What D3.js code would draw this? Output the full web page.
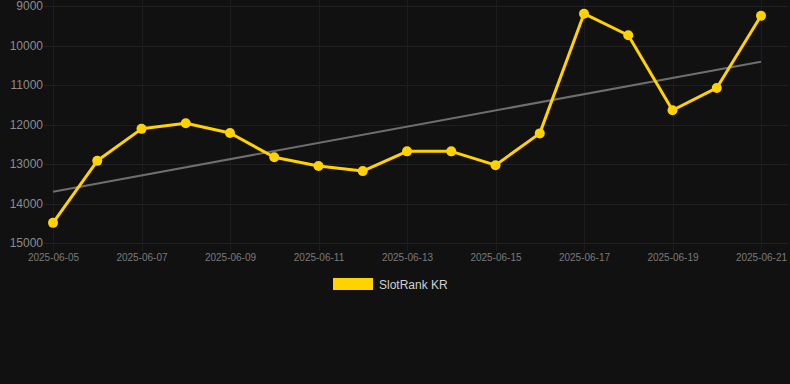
<!DOCTYPE html>
<html>
<head>
<meta charset="utf-8">
<script src="https://cdn.jsdelivr.net/npm/d3@7"></script>
<style>
  html, body { margin: 0; padding: 0; background: #111111; }
  svg { display: block; font-family: "Liberation Sans", Arial, sans-serif; }
</style>
</head>
<body>
<svg id="chart" width="790" height="384"></svg>
<script>
// data
const dates = ["2025-06-05", "2025-06-06", "2025-06-07", "2025-06-08", "2025-06-09", "2025-06-10",
  "2025-06-11", "2025-06-12", "2025-06-13", "2025-06-14", "2025-06-15", "2025-06-16",
  "2025-06-17", "2025-06-18", "2025-06-19", "2025-06-20", "2025-06-21"];
const ranks = [14490, 12920, 12110, 11970, 12215, 12830, 13050, 13180, 12680, 12680,
  13030, 12225, 9195, 9740, 11640, 11075, 9245];
const trendDates = ["2025-06-05", "2025-06-21"];
const trendValues = [13700, 10410];
const yTicks = [9000, 10000, 11000, 12000, 13000, 14000, 15000];
const xTicks = ["2025-06-05", "2025-06-07", "2025-06-09", "2025-06-11", "2025-06-13",
  "2025-06-15", "2025-06-17", "2025-06-19", "2025-06-21"];
const seriesName = "SlotRank KR";

const parse = d3.utcParse("%Y-%m-%d");
const fmt = d3.utcFormat("%Y-%m-%d");

const svg = d3.select("#chart");
svg.append("rect").attr("width", 790).attr("height", 384).attr("fill", "#111111");

const x = d3.scaleUtc()
  .domain([parse(dates[0]), parse(dates[dates.length - 1])])
  .range([53, 761]);

const y = d3.scaleLinear()
  .domain([9000, 15000])
  .range([6, 243]);

// grid
const grid = svg.append("g");
grid.selectAll(".hgrid")
  .data(yTicks)
  .enter()
  .append("line")
  .attr("x1", 44)
  .attr("x2", 788)
  .attr("y1", (d) => Math.round(y(d)) + 0.5)
  .attr("y2", (d) => Math.round(y(d)) + 0.5)
  .attr("stroke", "#202020")
  .attr("stroke-width", 1);

grid.selectAll(".vgrid")
  .data(xTicks)
  .enter()
  .append("line")
  .attr("x1", (d) => Math.round(x(parse(d))) + 0.5)
  .attr("x2", (d) => Math.round(x(parse(d))) + 0.5)
  .attr("y1", 0)
  .attr("y2", 251)
  .attr("stroke", "#1d1d1d")
  .attr("stroke-width", 1);

// y axis labels
const yAxis = svg.append("g")
  .attr("transform", "translate(44,0)")
  .call(d3.axisLeft(y).tickValues(yTicks).tickSize(0).tickPadding(1).tickFormat(d3.format("d")));
yAxis.select(".domain").remove();
yAxis.selectAll("text")
  .attr("fill", "#8c8c8c")
  .attr("font-size", 12)
  .attr("font-family", "Liberation Sans, Arial, sans-serif");

// x axis labels
const xAxis = svg.append("g")
  .attr("transform", "translate(0,251)")
  .call(d3.axisBottom(x).tickValues(xTicks.map(parse)).tickSize(0).tickPadding(3).tickFormat(fmt));
xAxis.select(".domain").remove();
xAxis.selectAll("text")
  .attr("fill", "#7a7a7a")
  .attr("font-size", 10)
  .attr("font-family", "Liberation Sans, Arial, sans-serif");

// trend line
svg.append("path")
  .datum(trendDates.map((d, i) => ({ date: parse(d), value: trendValues[i] })))
  .attr("fill", "none")
  .attr("stroke", "#6e6e6e")
  .attr("stroke-width", 2)
  .attr("d", d3.line().x((d) => x(d.date)).y((d) => y(d.value)));

// series
const points = dates.map((d, i) => ({ date: parse(d), value: ranks[i] }));

svg.append("path")
  .datum(points)
  .attr("fill", "none")
  .attr("stroke", "#FFD200")
  .attr("stroke-width", 3)
  .attr("stroke-linejoin", "round")
  .attr("d", d3.line().x((d) => x(d.date)).y((d) => y(d.value)));

svg.append("g")
  .selectAll("circle")
  .data(points)
  .enter()
  .append("circle")
  .attr("cx", (d) => x(d.date))
  .attr("cy", (d) => y(d.value))
  .attr("r", 5)
  .attr("fill", "#FFD200");

// legend
svg.append("rect")
  .attr("x", 333)
  .attr("y", 278)
  .attr("width", 40)
  .attr("height", 12)
  .attr("fill", "#FFD200");

svg.append("text")
  .attr("x", 379)
  .attr("y", 288.5)
  .attr("fill", "#d0d0d0")
  .attr("font-size", 12)
  .text(seriesName);
</script>
</body>
</html>
